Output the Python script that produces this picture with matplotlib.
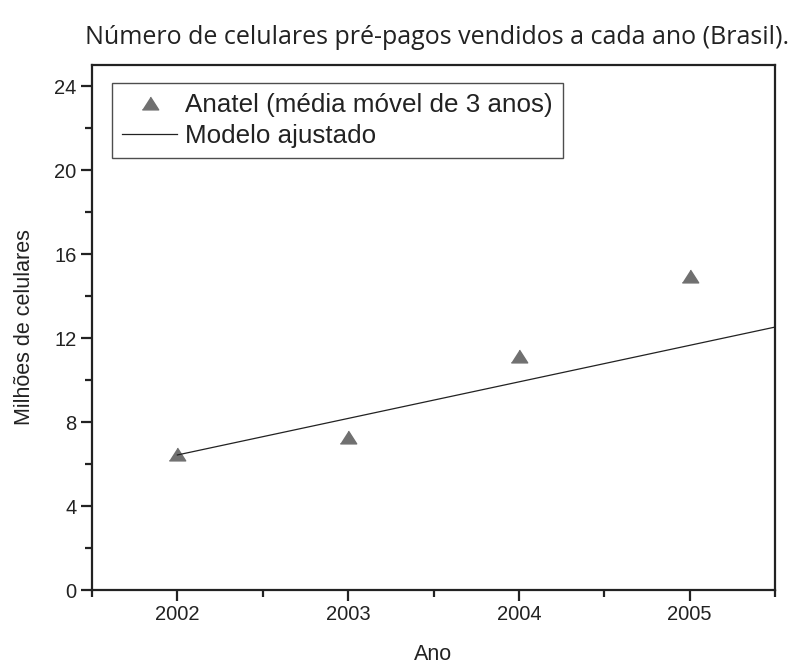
import numpy as np
import matplotlib.pyplot as plt
from matplotlib.ticker import MultipleLocator

# valores
anos = [2002, 2003, 2004, 2005]
anatel = [6.5, 7.3, 11.15, 14.95]

# modelo ajustado (reta), pontos extremos
modelo_x = [2002, 2005.5]
modelo_y = [6.43, 12.52]

y_ticks = [0, 4, 8, 12, 16, 20, 24]

plt.rcParams.update({'font.family': ['Liberation Sans', 'DejaVu Sans'],
                     'axes.linewidth': 1.6})

fig = plt.figure(figsize=(7.93, 6.66), dpi=100)
ax = fig.add_axes([92/793, 1-590/666, (775-92)/793, (590-65)/666])

# triangulo um pouco achatado, como no original
tri = [(-1, -0.78), (1, -0.78), (0, 0.78)]
ax.plot(anos, anatel, linestyle='none', marker=tri, markersize=11.8,
        color='#707070', label='Anatel (média móvel de 3 anos)')
ax.plot(modelo_x, modelo_y, color='#222222', linewidth=0.9,
        label='Modelo ajustado')

ax.set_xlim(2001.5, 2005.5)
ax.set_ylim(0, 25)
ax.set_xticks(anos)
ax.set_yticks(y_ticks)
ax.xaxis.set_minor_locator(MultipleLocator(0.5))
ax.yaxis.set_minor_locator(MultipleLocator(2))
ax.tick_params(which='both', direction='out', width=1.6, colors='#222222',
               labelsize=14.5, labelcolor='#222222')
ax.tick_params(which='major', length=8, pad=3)
ax.tick_params(which='minor', length=5)
for s in ax.spines.values():
    s.set_color('#222222')

ax.set_xlabel('Ano', fontsize=15.5, color='#222222', labelpad=14)
ax.set_ylabel('Milhões de celulares', fontsize=15.5, color='#222222', labelpad=14)

leg = ax.legend(loc='upper left', bbox_to_anchor=(20/683, 1-18/525),
                fontsize=18.7, frameon=True, fancybox=False, borderpad=0.4,
                handlelength=2.1, handletextpad=0.3, labelspacing=0.25,
                borderaxespad=0)
leg.get_frame().set_edgecolor('#222222')
leg.get_frame().set_linewidth(1.0)
for t in leg.get_texts():
    t.set_color('#222222')

fig.text(437/793, 1-37/666, 'Número de celulares pré-pagos vendidos a cada ano (Brasil).',
         ha='center', va='center', fontsize=18, color='#222222',
         family=['Open Sans', 'DejaVu Sans'])

fig.savefig('out.png', dpi=100)
